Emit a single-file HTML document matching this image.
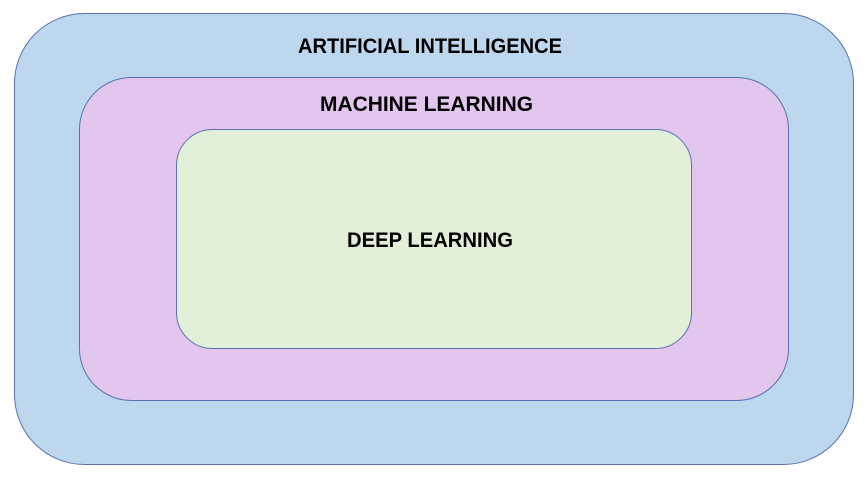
<!DOCTYPE html>
<html><head><meta charset="utf-8"><style>
html,body{margin:0;padding:0;background:#fff;}
svg{display:block;}
text{font-family:"Liberation Sans",sans-serif;font-weight:bold;font-size:21px;fill:#000;}
</style></head><body>
<svg width="865" height="481" viewBox="0 0 865 481" xmlns="http://www.w3.org/2000/svg">
<rect x="14.5" y="13.5" width="839" height="451" rx="70" ry="70" fill="#bdd7ee" stroke="#5a72b0" stroke-width="1"/>
<rect x="79.5" y="77.5" width="709" height="323" rx="52" ry="52" fill="#e2c6ee" stroke="#5a72b0" stroke-width="1"/>
<rect x="176.5" y="129.5" width="515" height="219" rx="36" ry="36" fill="#e2efd9" stroke="#5a72b0" stroke-width="1"/>
<text x="298" y="53" textLength="264" lengthAdjust="spacingAndGlyphs">ARTIFICIAL INTELLIGENCE</text>
<text x="320" y="111" textLength="213" lengthAdjust="spacingAndGlyphs">MACHINE LEARNING</text>
<text x="347" y="247" textLength="166" lengthAdjust="spacingAndGlyphs">DEEP LEARNING</text>
</svg>
</body></html>
